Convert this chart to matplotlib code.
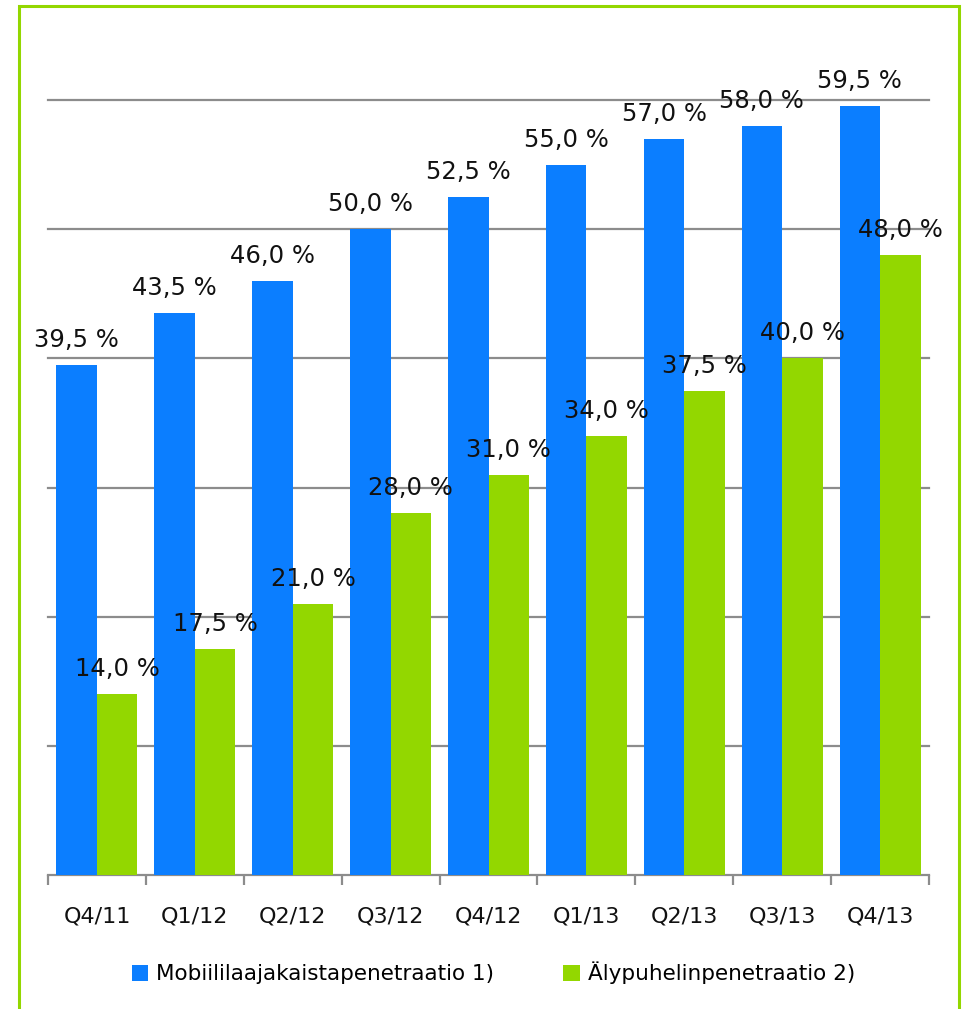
import numpy as np
import matplotlib.pyplot as plt
from matplotlib.patches import Rectangle

quarters = ["Q4/11", "Q1/12", "Q2/12", "Q3/12", "Q4/12", "Q1/13", "Q2/13", "Q3/13", "Q4/13"]
mobile = [39.5, 43.5, 46.0, 50.0, 52.5, 55.0, 57.0, 58.0, 59.5]
smart = [14.0, 17.5, 21.0, 28.0, 31.0, 34.0, 37.5, 40.0, 48.0]
names = ["Mobiililaajakaistapenetraatio 1)", "Älypuhelinpenetraatio 2)"]

blue = "#0B7EFF"
green = "#93D700"
grey = "#8C8C8C"

plt.rcParams["font.family"] = "DejaVu Sans"

fig = plt.figure(figsize=(9.64, 10.09), dpi=100)
ax = fig.add_axes([48 / 964, 1 - 875 / 1009, 881 / 964, 775 / 1009])

# green frame round the whole chart
fig.patches.append(Rectangle((19 / 964, -0.05), 940 / 964, 1.05 - 6 / 1009,
                             transform=fig.transFigure, fill=False,
                             edgecolor=green, linewidth=2.2))

x = np.arange(len(quarters))
w = 0.414
b1 = ax.bar(x - w / 2, mobile, w, color=blue, label=names[0], zorder=3)
b2 = ax.bar(x + w / 2, smart, w, color=green, label=names[1], zorder=3)

def fmt(v):
    return f"{v:.1f}".replace(".", ",") + " %"

for bars, vals in ((b1, mobile), (b2, smart)):
    for r, v in zip(bars, vals):
        ax.annotate(fmt(v), (r.get_x() + r.get_width() / 2, v),
                    xytext=(0, 13), textcoords="offset points",
                    ha="center", va="baseline", fontsize=17.5,
                    color="#111111", zorder=5, annotation_clip=False)

ax.set_xlim(-0.5, len(quarters) - 0.5)
ax.set_ylim(0, 60)
for g in range(10, 61, 10):
    ax.axhline(g, color=grey, linewidth=1.6, zorder=1, clip_on=False)

for s in ("top", "right", "left"):
    ax.spines[s].set_visible(False)
ax.spines["bottom"].set_color(grey)
ax.spines["bottom"].set_linewidth(1.6)
ax.set_yticks([])

ax.set_xticks(np.arange(len(quarters) + 1) - 0.5, minor=False)
ax.set_xticklabels([])
ax.set_xticks(x, minor=True)
ax.set_xticklabels(quarters, minor=True, fontsize=16, color="#111111")
ax.tick_params(axis="x", which="major", length=7, width=1.6, color=grey)
ax.tick_params(axis="x", which="minor", length=0, pad=23)

fig.legend(handles=[b1, b2], labels=names, loc="center",
           bbox_to_anchor=(0.512, 1 - 973 / 1009), ncol=2, frameon=False,
           fontsize=15.5, handlelength=0.75, handleheight=0.75,
           handletextpad=0.4, columnspacing=3.2)

fig.savefig("out.png", dpi=100, facecolor="white")
